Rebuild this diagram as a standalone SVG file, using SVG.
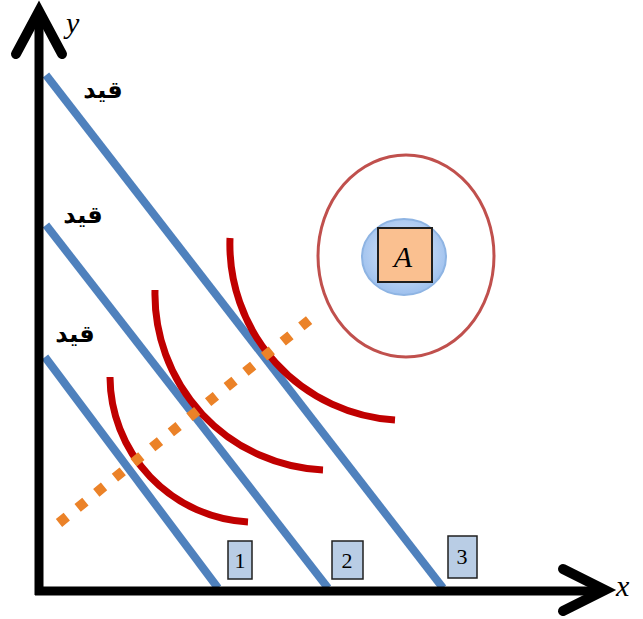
<svg xmlns="http://www.w3.org/2000/svg" width="643" height="619" viewBox="0 0 643 619">
<style>
.axis{stroke:#000;stroke-width:9;fill:none}
.head{stroke:#000;stroke-width:10;fill:none;stroke-linecap:round;stroke-linejoin:miter}
.budget{stroke:#4f81bd;stroke-width:8;fill:none}
.ic{stroke:#c00000;stroke-width:7;fill:none}
.path{stroke:#eb8228;stroke-width:10;fill:none;stroke-dasharray:10 14}
.lbl{font-family:"DejaVu Sans",sans-serif;font-weight:bold;font-size:24px;fill:#000;text-anchor:middle}
.num{font-family:"Liberation Serif",serif;font-size:22px;fill:#000;text-anchor:middle}
.nbox{fill:#b9cde5;stroke:#1f1f1f;stroke-width:1.5}
.ax{font-family:"Liberation Serif",serif;font-style:italic;font-size:30px;fill:#000}
</style>
<defs>
<radialGradient id="bg" cx="50%" cy="45%" r="55%">
<stop offset="0" stop-color="#e6eefa"/>
<stop offset="1" stop-color="#9dc0ee"/>
</radialGradient>
</defs>
<rect width="643" height="619" fill="#fff"/>
<g id="connectors">
<line class="budget" x1="46" y1="75" x2="443" y2="588"/>
<line class="budget" x1="46" y1="225" x2="328" y2="588"/>
<line class="budget" x1="45" y1="357" x2="218" y2="588"/>
<path class="ic" d="M230 238 A176 176 0 0 0 395 420"/>
<path class="ic" d="M155 290 A176 176 0 0 0 323 470"/>
<path class="ic" d="M110 377 A146 146 0 0 0 248 522"/>
<line class="path" x1="59" y1="523" x2="313" y2="317"/>
</g>
<g id="axes">
<line class="axis" x1="39" y1="595" x2="39" y2="14"/>
<polyline class="head" points="16,54 39,11 62,54"/>
<line class="axis" x1="35" y1="591" x2="603" y2="591"/>
<polyline class="head" points="563,569 605,590 563,611"/>
<text class="ax" x="66" y="33">y</text>
<text class="ax" x="616" y="596">x</text>
</g>
<g id="label-1"><text class="lbl" x="103" y="98">قيد</text></g>
<g id="label-2"><text class="lbl" x="83" y="223">قيد</text></g>
<g id="label-3"><text class="lbl" x="75" y="342">قيد</text></g>
<g id="box-1"><rect class="nbox" x="228" y="541" width="24" height="38"/><text class="num" x="240" y="568">1</text></g>
<g id="box-2"><rect class="nbox" x="332" y="541" width="31" height="38"/><text class="num" x="347" y="568">2</text></g>
<g id="box-3"><rect class="nbox" x="448" y="536" width="29" height="42"/><text class="num" x="462" y="564">3</text></g>
<g id="point-A">
<ellipse cx="406" cy="256" rx="88" ry="101" fill="none" stroke="#c0504d" stroke-width="3"/>
<ellipse cx="404" cy="257" rx="42" ry="38" fill="url(#bg)" stroke="#8eb4e3" stroke-width="2"/>
<rect x="378" y="228" width="54" height="54" fill="#fac090" stroke="#1f1f1f" stroke-width="2"/>
<text class="ax" x="403" y="267" text-anchor="middle" font-size="28">A</text>
</g>
</svg>
